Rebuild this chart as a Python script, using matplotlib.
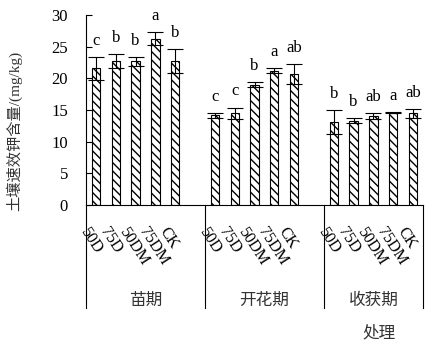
import matplotlib
matplotlib.use("Agg")
import matplotlib.pyplot as plt
import matplotlib.transforms as mtransforms

plt.rcParams['hatch.linewidth'] = 1.0
plt.rcParams['font.family'] = ['Liberation Serif', 'Noto Sans CJK SC']

stages = ['苗期', '开花期', '收获期']
treatments = ['50D', '75D', '50DM', '75DM', 'CK']
means = [
    [21.6, 22.7, 22.7, 26.3, 22.7],
    [14.2, 14.5, 19.0, 21.2, 20.7],
    [13.1, 13.3, 14.1, 14.6, 14.5],
]
errs = [
    [1.8, 1.1, 0.7, 1.1, 1.9],
    [0.4, 0.9, 0.4, 0.4, 1.6],
    [1.9, 0.4, 0.5, 0.1, 0.7],
]
letters = [
    ['c', 'b', 'b', 'a', 'b'],
    ['c', 'c', 'b', 'a', 'ab'],
    ['b', 'b', 'ab', 'a', 'ab'],
]
ylabel = '土壤速效钾含量/(mg/kg)'
xlabel = '处理'

fig = plt.figure(figsize=(4.37, 3.59), dpi=100)
ax = fig.add_axes([0.1968, 0.429, 0.7712, 0.529])

cjk = ['Noto Sans CJK SC']
slot = 6
xs_all = []
for g, stage in enumerate(stages):
    xs = [g * slot + i + 0.5 for i in range(len(treatments))]
    xs_all.append(xs)
    ax.bar(xs, means[g], width=0.42, color='white', edgecolor='black',
           linewidth=0.8, hatch='\\\\\\\\', zorder=2)
    ax.errorbar(xs, means[g], yerr=errs[g], fmt='none', ecolor='black',
                elinewidth=0.8, capsize=5.5, capthick=0.8, zorder=3)
    for x, m, e, lt in zip(xs, means[g], errs[g], letters[g]):
        ax.text(x, m + e + 1.9, lt, ha='center', va='baseline', fontsize=12)

ax.set_xlim(0, 17)
ax.set_ylim(0, 30)
ax.set_yticks(range(0, 31, 5))
ax.tick_params(axis='y', direction='in', length=4, labelsize=12, width=0.8, pad=13)
ax.set_xticks([])
for s in ['top', 'right']:
    ax.spines[s].set_visible(False)
ax.spines['left'].set_linewidth(0.8)
ax.spines['bottom'].set_linewidth(0.8)

trans = mtransforms.blended_transform_factory(ax.transData, ax.transAxes)
# group divider lines below axis
for xd in [0, 6, 12, 17]:
    ax.plot([xd, xd], [0, -0.542], transform=trans, color='black',
            linewidth=0.8, clip_on=False)
# treatment labels
for g in range(len(stages)):
    for x, t in zip(xs_all[g], treatments):
        ax.text(x - 0.3, -0.10, t, transform=trans, rotation=-57,
                rotation_mode='anchor', ha='left', va='top', fontsize=11.5)
# group labels
centers = [3, 9, 14.5]
for c, s in zip(centers, stages):
    ax.text(c, -0.5, s, transform=trans, ha='center', va='center',
            fontsize=12, family=cjk, color='#333333')
ax.text(14.8, -0.674, xlabel, transform=trans, ha='center', va='center',
        fontsize=12, family=cjk, color='#333333')

fig.text(0.032, 0.635, ylabel, rotation=90, ha='center', va='center',
         fontsize=11, color='#333333')

fig.savefig('out.png', dpi=100)
